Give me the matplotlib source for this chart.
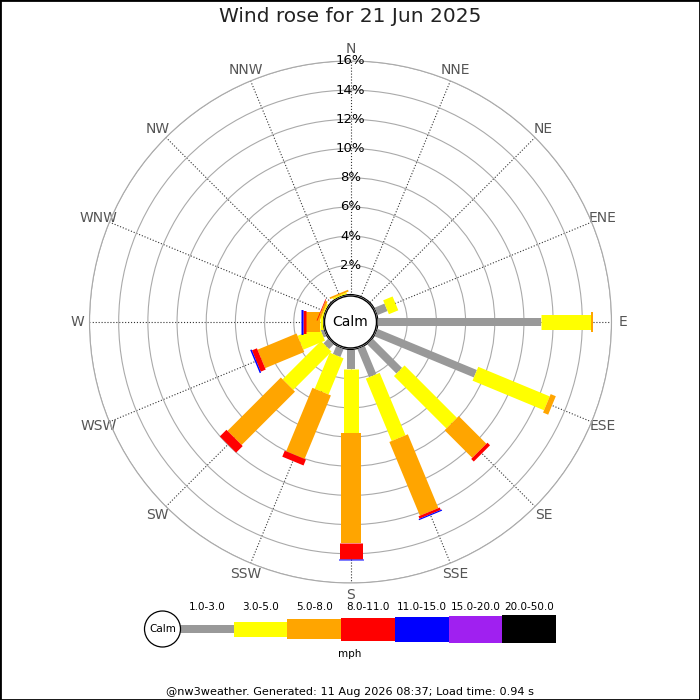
import numpy as np
import matplotlib
matplotlib.use('Agg')
import matplotlib.pyplot as plt
from matplotlib.patches import Circle, Ellipse, Rectangle

# ---- data ----
directions = ['N', 'NNE', 'NE', 'ENE', 'E', 'ESE', 'SE', 'SSE',
              'S', 'SSW', 'SW', 'WSW', 'W', 'WNW', 'NW', 'NNW']
speed_bands = ['1.0-3.0', '3.0-5.0', '5.0-8.0', '8.0-11.0',
               '11.0-15.0', '15.0-20.0', '20.0-50.0']
ring_pcts = [2, 4, 6, 8, 10, 12, 14, 16]

# % of the day in each direction, one list per speed band
pct_1_3 = [0, 0, 0, 0.75, 11.14, 7.38, 2.84, 2.10, 1.36, 0.60, 0.47, 0.22, 0, 0, 0, 0]
pct_3_5 = [0, 0, 0, 0.70, 3.43, 5.30, 5.08, 4.63, 4.38, 2.68, 3.71, 1.61, 0.20, 0.10, 0, 0.10]
pct_5_8 = [0, 0, 0, 0, 0.18, 0.38, 2.68, 5.47, 7.53, 4.71, 5.17, 2.90, 0.96, 0.15, 0, 0.12]
pct_8_11 = [0, 0, 0, 0, 0, 0, 0.25, 0.18, 1.10, 0.44, 0.64, 0.37, 0.23, 0.05, 0, 0]
pct_11_15 = [0, 0, 0, 0, 0, 0, 0, 0.08, 0.08, 0, 0, 0.10, 0.11, 0, 0, 0]
pct_15_20 = [0, 0, 0, 0, 0, 0, 0, 0, 0, 0, 0, 0, 0, 0, 0, 0]
pct_20_50 = [0, 0, 0, 0, 0, 0, 0, 0, 0, 0, 0, 0, 0, 0, 0, 0]

bands = [pct_1_3, pct_3_5, pct_5_8, pct_8_11, pct_11_15, pct_15_20, pct_20_50]
band_colors = ['#999999', '#ffff00', '#ffa500', '#ff0000', '#0000ff', '#a020f0', '#000000']
band_thick = [8, 15, 20, 23, 25, 27, 28]   # bar thickness in px

# ---- layout (pixels on a 700x700 canvas) ----
W = 700
cx, cy = 350.5, 322
R = 261.0          # radius of the 16% ring
r0 = 27.5          # radius where 0% starts (edge of calm circle)
px = 0.72          # points per pixel at dpi 100

fig = plt.figure(figsize=(7, 7), dpi=100)
fig.patches.append(Rectangle((0, 0), 1, 1, transform=fig.transFigure,
                             fill=False, ec='black', lw=2))

ax = fig.add_axes([(cx - R) / W, (W - cy - R) / W, 2 * R / W, 2 * R / W],
                  projection='polar')
ax.set_theta_zero_location('N')
ax.set_theta_direction(-1)
ax.set_ylim(0, ring_pcts[-1])
ax.set_rorigin(-ring_pcts[-1] * r0 / (R - r0))
ax.set_axisbelow(True)

theta = np.deg2rad(np.arange(len(directions)) * 360.0 / len(directions))
ax.set_xticks(theta)
ax.set_xticklabels(directions, color='#555555', fontsize=10)
ax.tick_params(axis='x', pad=-2)
ax.set_yticks(ring_pcts)
ax.set_yticklabels([])
ax.xaxis.grid(True, linestyle=':', color='#333333', lw=0.8)
ax.yaxis.grid(True, linestyle='-', color='#aaaaaa', lw=0.8)
ax.spines['polar'].set_color('#aaaaaa')
ax.spines['polar'].set_linewidth(0.8)
ax.spines['inner'].set_visible(False)

# stacked radial bars
cum = np.zeros(len(directions))
for vals, col, th in zip(bands, band_colors, band_thick):
    vals = np.array(vals)
    for i in range(len(directions)):
        if vals[i] > 0:
            ax.plot([theta[i], theta[i]], [cum[i], cum[i] + vals[i]], color=col,
                    lw=th * px, solid_capstyle='butt', zorder=3)
    cum += vals

for p in ring_pcts:
    ax.text(0, p, f'{p}%', ha='center', va='center', fontsize=9.5, color='black', zorder=4)

calm_r = 26.0 / (2 * R)
ax.add_patch(Circle((0.5, 0.5), calm_r, transform=ax.transAxes, facecolor='white',
                    edgecolor='black', lw=1, zorder=5, clip_on=False))
ax.text(0.5, 0.5, 'Calm', transform=ax.transAxes, ha='center', va='center',
        fontsize=10, zorder=6)

fig.text(0.5, 1 - 17 / W, 'Wind rose for 21 Jun 2025', ha='center', va='center',
         fontsize=14.5, color='#222222')

# ---- legend ----
seg = 53.7
lx0, lx1, ly = 140, 560, 629
lax = fig.add_axes([lx0 / W, (W - ly - 35) / W, (lx1 - lx0) / W, 70 / W])
lax.set_xlim((lx0 - 180) / seg, (lx1 - 180) / seg)
lax.set_ylim(-35, 35)
lax.axis('off')
thick = np.array(band_thick, dtype=float)
lax.bar(np.arange(len(speed_bands)), thick, width=1, bottom=-thick / 2, align='edge',
        color=band_colors, lw=0)
for i, lab in enumerate(speed_bands):
    lax.text(i + 0.5, 22, lab, ha='center', va='center', fontsize=7.5)
calm_x = (162.5 - 180) / seg
lax.add_patch(Ellipse((calm_x, 0), 36 / seg, 36, facecolor='white', edgecolor='black',
                      lw=0.9, zorder=3))
lax.text(calm_x, 0, 'Calm', ha='center', va='center', fontsize=7.5, zorder=4)

fig.text(0.5, 1 - 654 / W, 'mph', ha='center', va='center', fontsize=7.5)
fig.text(0.5, 1 - 692 / W, '@nw3weather. Generated: 11 Aug 2026 08:37; Load time: 0.94 s',
         ha='center', va='center', fontsize=8.1)

fig.savefig('out.png', dpi=100)
